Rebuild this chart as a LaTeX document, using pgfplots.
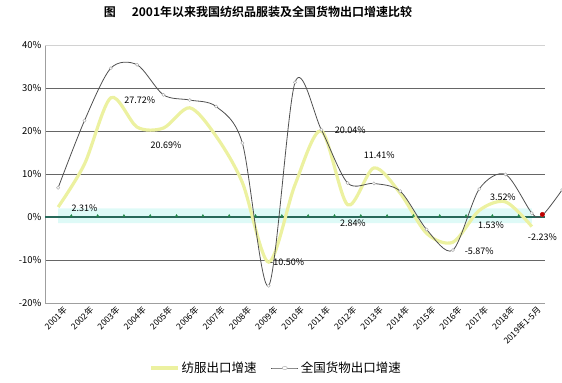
\documentclass[border=0pt]{standalone}
\usepackage{pgfplots}
\pgfplotsset{compat=1.18}
\usepackage{fontspec}
\setmainfont{Noto Sans CJK SC}[BoldFont={Noto Sans CJK SC Bold}]
\usetikzlibrary{calc}
\definecolor{yel}{RGB}{236,241,160}
\definecolor{grayl}{RGB}{80,80,80}
\definecolor{zeroc}{RGB}{40,105,90}
\definecolor{band}{RGB}{222,250,247}
\begin{document}
\begin{tikzpicture}
\begin{axis}[name=ax, scale only axis, width=500pt, height=258pt,
  xmin=-0.5, xmax=18.5, ymin=-20, ymax=40,
  axis lines=left, axis line style={-, draw=gray!75},
  xtick={0,...,18},
  xticklabels={2001年,2002年,2003年,2004年,2005年,2006年,2007年,2008年,2009年,2010年,2011年,2012年,2013年,2014年,2015年,2016年,2017年,2018年,2019年1-5月},
  x tick label style={rotate=45, anchor=east, font=\fontsize{8.5}{9}\selectfont, inner sep=0.5pt, yshift=-9pt, xshift=2pt},
  major tick length=0pt,
  ytick={-20,-10,...,40},
  yticklabel={\pgfmathprintnumber{\tick}\%},
  /pgf/number format/assume math mode=true,
  y tick label style={font=\fontsize{9.5}{10}\selectfont},
  ymajorgrids, grid style={black!60, line width=0.7pt},
  clip=false,
  legend style={at={(0.462,-0.252)}, anchor=center, draw=none, fill=none, legend columns=2,
    font=\fontsize{12.5}{13}\selectfont,
    /tikz/every even column/.append style={column sep=12pt}},
  legend image post style={xscale=1.6},
]
% glow band around zero
\addplot[forget plot, draw=none, fill=band] coordinates {(0,-1.4) (18,-1.4) (18,2.0) (0,2.0)} \closedcycle;
\draw[gray!35, line width=0.8pt] (axis cs:-0.5,40) -- (axis cs:18.5,40);
% zero line
\addplot[forget plot, zeroc, line width=1.6pt] coordinates {(-0.5,0) (18.5,0)};
\addplot[forget plot, only marks, mark=triangle*, mark size=1.3pt, color=zeroc!80!green, yshift=1.2pt]
  coordinates {(0.5,0)(1.5,0)(2.5,0)(3.5,0)(4.5,0)(5.5,0)(6.5,0)(7.5,0)(8.5,0)(9.5,0)(10.5,0)(11.5,0)(12.5,0)(13.5,0)(14.5,0)(15.5,0)(16.5,0)(17.5,0)};
% textile & apparel export growth
\addplot[yel, line width=3.2pt, smooth, tension=0.5] coordinates {
(0,2.31)(1,12.3)(2,27.72)(3,20.9)(4,20.69)(5,25.4)(6,18.8)(7,8.0)(8,-10.50)(9,7.5)(10,20.04)(11,2.84)(12,11.41)(13,5.5)(14,-3.8)(15,-5.87)(16,1.53)(17,3.52)(18,-2.23)};
\addlegendentry{纺服出口增速}
% national goods export growth
\addplot[grayl, line width=0.8pt, smooth, tension=0.5, mark=*, mark size=1.6pt, mark options={fill=white, draw=gray!60, line width=0.5pt}] coordinates {
(0,6.8)(1,22.4)(2,34.6)(3,35.4)(4,28.4)(5,27.2)(6,25.7)(7,17.2)(8,-16.0)(9,31.3)(10,20.3)(11,7.9)(12,7.8)(13,6.0)(14,-2.9)(15,-7.7)(16,6.5)(17,9.9)(18,0.9)(18.4,0.4)(19.15,6.3)};
\addlegendentry{全国货物出口增速}
\addplot[forget plot, only marks, mark=*, mark size=2.2pt, color=red!75!black] coordinates {(18.4,0.6)};
% data labels
\begin{scope}[every node/.style={font=\fontsize{9}{10}\selectfont, inner sep=1pt}]
\node at (axis cs:1.0,2.1) {2.31\%};
\node at (axis cs:3.1,27.1) {27.72\%};
\node at (axis cs:4.1,16.6) {20.69\%};
\node at (axis cs:8.7,-10.6) {-10.50\%};
\node at (axis cs:11.1,20.2) {20.04\%};
\node at (axis cs:12.2,14.3) {11.41\%};
\node at (axis cs:11.2,-1.4) {2.84\%};
\node at (axis cs:16.0,-7.9) {-5.87\%};
\node at (axis cs:16.45,-1.8) {1.53\%};
\node at (axis cs:16.9,4.6) {3.52\%};
\node at (axis cs:18.4,-4.8) {-2.23\%};
\end{scope}
\end{axis}
\node[font=\bfseries\fontsize{12}{13}\selectfont] at ($(ax.north west)+(213pt,33pt)$) {图\hspace{16pt}2001年以来我国纺织品服装及全国货物出口增速比较};
\pgfresetboundingbox
\path ($(ax.south west)+(-45pt,-80pt)$) rectangle ($(ax.north east)+(17pt,45pt)$);
\end{tikzpicture}
\end{document}
